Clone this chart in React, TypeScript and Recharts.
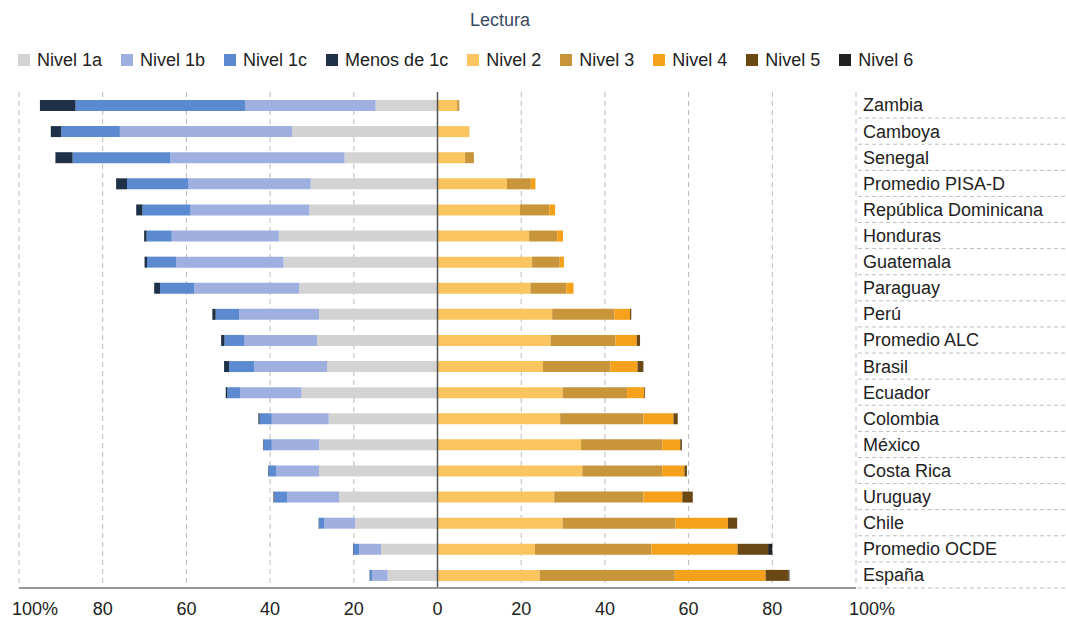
import React from "react";
import {
  BarChart, Bar, XAxis, YAxis, CartesianGrid, ReferenceLine,
} from "recharts";

const CATEGORIES = [
  "Zambia", "Camboya", "Senegal", "Promedio PISA-D", "República Dominicana",
  "Honduras", "Guatemala", "Paraguay", "Perú", "Promedio ALC", "Brasil",
  "Ecuador", "Colombia", "México", "Costa Rica", "Uruguay", "Chile",
  "Promedio OCDE", "España",
];

// below Nivel 2 (drawn to the left of zero)
const NIVEL_1A = [14.8, 34.7, 22.2, 30.3, 30.6, 37.9, 36.8, 33.1, 28.3, 28.8, 26.4, 32.5, 26.0, 28.3, 28.3, 23.5, 19.7, 13.5, 11.9];
const NIVEL_1B = [31.2, 41.2, 41.7, 29.2, 28.4, 25.6, 25.6, 25.0, 19.1, 17.3, 17.4, 14.7, 13.6, 11.3, 10.2, 12.4, 7.4, 5.2, 3.7];
const NIVEL_1C = [40.5, 14.0, 23.3, 14.7, 11.5, 6.0, 7.0, 8.2, 5.6, 4.8, 6.0, 3.0, 2.9, 2.0, 1.9, 3.1, 1.2, 1.4, 0.6];
const MENOS_1C = [8.5, 2.5, 4.1, 2.6, 1.5, 0.6, 0.6, 1.4, 0.8, 0.8, 1.2, 0.4, 0.3, 0.1, 0.1, 0.2, 0.1, 0.1, 0.05];

// Nivel 2 and above (right of zero)
const NIVEL_2 = [4.7, 7.5, 6.6, 16.6, 19.7, 21.9, 22.6, 22.2, 27.4, 27.0, 25.2, 29.9, 29.3, 34.3, 34.6, 27.9, 29.9, 23.3, 24.4];
const NIVEL_3 = [0.5, 0.1, 2.1, 5.7, 7.0, 6.7, 6.6, 8.6, 14.9, 15.5, 16.1, 15.4, 19.9, 19.4, 19.1, 21.3, 27.0, 27.8, 32.3];
const NIVEL_4 = [0, 0, 0, 1.1, 1.4, 1.4, 1.0, 1.7, 3.7, 5.1, 6.5, 4.1, 7.2, 4.3, 5.3, 9.3, 12.5, 20.6, 21.7];
const NIVEL_5 = [0, 0, 0, 0, 0, 0, 0, 0, 0.3, 0.8, 1.4, 0.2, 1.0, 0.4, 0.6, 2.5, 2.2, 7.3, 5.5];
const NIVEL_6 = [0, 0, 0, 0, 0, 0, 0, 0, 0, 0, 0, 0, 0, 0, 0, 0, 0, 1.0, 0.2];

const X_TICKS = [-100, -80, -60, -40, -20, 0, 20, 40, 60, 80, 100];

const LEFT = [
  { key: "n1a", name: "Nivel 1a", color: "#d3d3d3", values: NIVEL_1A },
  { key: "n1b", name: "Nivel 1b", color: "#9eafe0", values: NIVEL_1B },
  { key: "n1c", name: "Nivel 1c", color: "#5b8ad0", values: NIVEL_1C },
  { key: "m1c", name: "Menos de 1c", color: "#1f3148", values: MENOS_1C },
];
const RIGHT = [
  { key: "n2", name: "Nivel 2", color: "#fac55e", values: NIVEL_2 },
  { key: "n3", name: "Nivel 3", color: "#c8953b", values: NIVEL_3 },
  { key: "n4", name: "Nivel 4", color: "#f6a11c", values: NIVEL_4 },
  { key: "n5", name: "Nivel 5", color: "#6a4814", values: NIVEL_5 },
  { key: "n6", name: "Nivel 6", color: "#222222", values: NIVEL_6 },
];
const SERIES = [...LEFT, ...RIGHT];

const data = CATEGORIES.map((name, i) => {
  const row: Record<string, any> = { name };
  LEFT.forEach((s) => (row[s.key] = -s.values[i]));
  RIGHT.forEach((s) => (row[s.key] = s.values[i]));
  return row;
});

const FONT = "'Liberation Sans', Arial, sans-serif";

function XTick(props: any) {
  const { x, y, payload } = props;
  const v = payload.value;
  const edge = Math.abs(v) === 100;
  return (
    <text
      x={edge ? x - 7 : x}
      y={y + 19}
      textAnchor={edge ? "start" : "middle"}
      fill="#222"
      fontSize={18}
      fontFamily={FONT}
    >
      {edge ? "100%" : Math.abs(v)}
    </text>
  );
}

function YTick(props: any) {
  const { x, y, payload } = props;
  const off = payload.offset ?? 13;
  return (
    <g>
      <text x={x - 1} y={y} dy={6.4} textAnchor="start" fill="#222" fontSize={18} fontFamily={FONT}>
        {payload.value}
      </text>
      <line x1={858} x2={1066} y1={y + off} y2={y + off} stroke="#bdbdbd" strokeDasharray="4 3" />
    </g>
  );
}

export default function App() {
  return (
    <div style={{ position: "absolute", left: 0, top: 0, width: 1066, height: 620, background: "#fff", fontFamily: FONT }}>
      <div style={{ position: "absolute", left: 0, top: 11, width: 1000, textAlign: "center", fontSize: 18, lineHeight: "18px", color: "#3b4a63" }}>
        Lectura
      </div>
      <div style={{ position: "absolute", left: 18, top: 51, display: "flex", gap: 19, fontSize: 18, lineHeight: "18px", color: "#222" }}>
        {SERIES.map((s) => (
          <div key={s.key} style={{ display: "flex", alignItems: "center" }}>
            <span style={{ width: 12, height: 12, background: s.color, marginRight: 7, display: "inline-block" }} />
            <span>{s.name}</span>
          </div>
        ))}
      </div>
      <BarChart
        width={1066}
        height={620}
        data={data}
        layout="vertical"
        stackOffset="sign"
        margin={{ top: 92, right: 0, bottom: 2, left: 19 }}
        barSize={11}
      >
        <CartesianGrid horizontal={false} stroke="#bbb" strokeDasharray="5 4" />
        <XAxis
          type="number"
          domain={[-100, 100]}
          ticks={X_TICKS}
          interval={0}
          height={30}
          axisLine={{ stroke: "#999", strokeWidth: 2 }}
          tickLine={false}
          tick={<XTick />}
        />
        <YAxis
          type="category"
          dataKey="name"
          orientation="right"
          width={210}
          axisLine={false}
          tickLine={false}
          interval={0}
          tick={<YTick />}
        />
        {SERIES.map((s) => (
          <Bar key={s.key} dataKey={s.key} name={s.name} stackId="a" fill={s.color} isAnimationActive={false} />
        ))}
        <ReferenceLine x={0} stroke="#555" strokeWidth={1.5} />
      </BarChart>
    </div>
  );
}
